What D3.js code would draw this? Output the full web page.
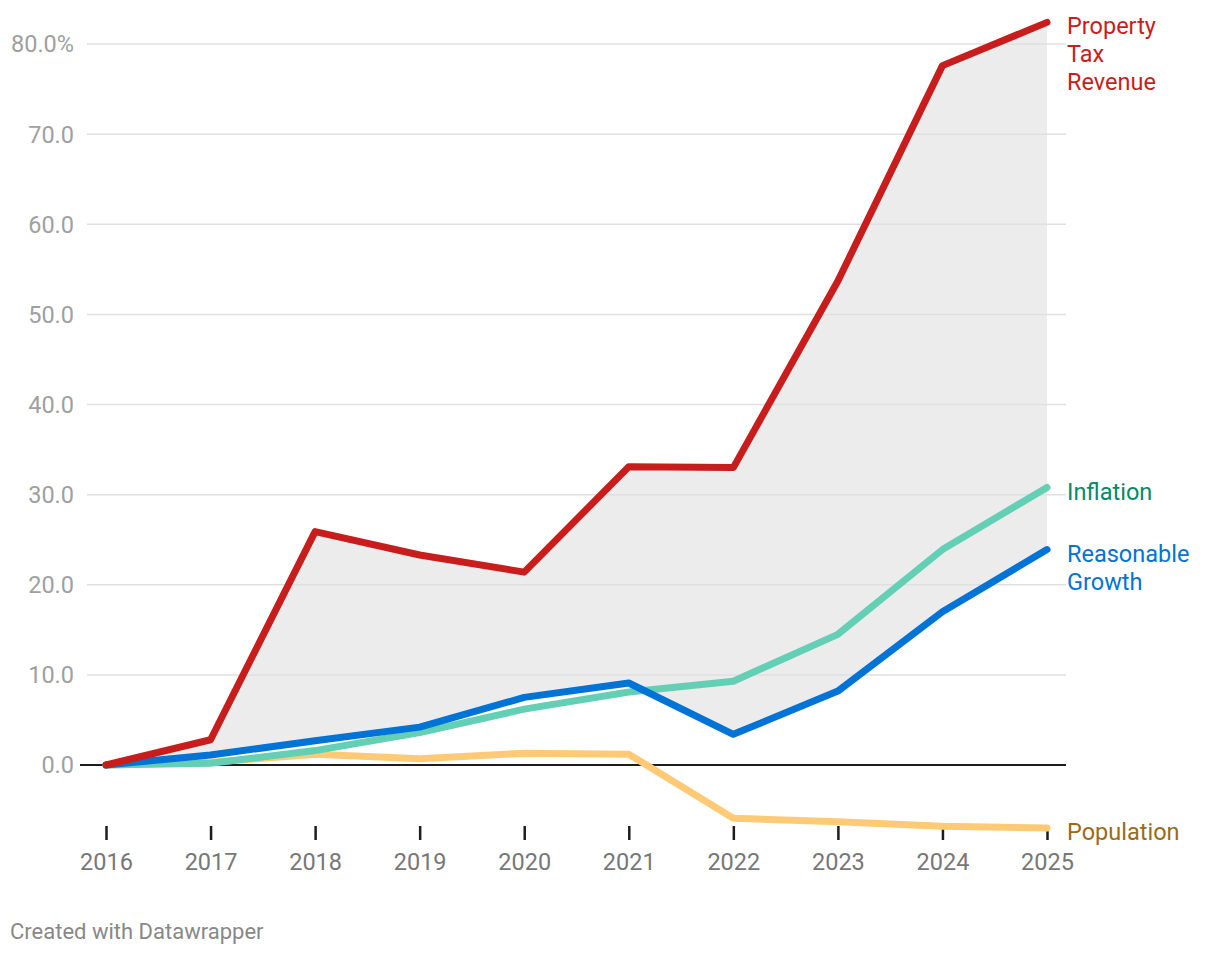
<!DOCTYPE html>
<html><head><meta charset="utf-8">
<script src="https://cdn.jsdelivr.net/npm/d3@7"></script>
<style>body{margin:0;background:#fff;font-family:Roboto,sans-serif}</style>
</head><body><svg id="c" width="1220" height="954"></svg>
<script>
const years = [2016,2017,2018,2019,2020,2021,2022,2023,2024,2025];
const propertyTax = [0,2.8,25.9,23.3,21.4,33.1,33.0,53.7,77.6,82.4];
const reasonableGrowth = [0,1.1,2.7,4.2,7.5,9.1,3.4,8.2,17.0,23.9];
const inflation = [0,0.2,1.6,3.6,6.2,8.1,9.3,14.5,23.9,30.8];
const population = [0,0.3,1.2,0.7,1.3,1.2,-5.9,-6.3,-6.8,-7.0];
const yTicks = [0,10,20,30,40,50,60,70,80];

const svg = d3.select("#c");
const x = d3.scaleLinear().domain([2016,2025]).range([106,1047]);
const y = d3.scaleLinear().domain([0,80]).range([765,44]);

const area = d3.area().x((d,i)=>x(years[i])).y0((d,i)=>y(reasonableGrowth[i])).y1(d=>y(d));
svg.append("path").attr("d",area(propertyTax)).attr("fill","#ececec");

const grid = svg.append("g");
yTicks.filter(t=>t!==0).forEach(t=>{
  grid.append("line").attr("x1",87).attr("x2",1066).attr("y1",y(t)).attr("y2",y(t))
    .attr("stroke","#e0e0e0").attr("stroke-width",1.5);
});
yTicks.forEach(t=>{
  svg.append("text").attr("x",74).attr("y",y(t)).attr("dy","0.36em").attr("text-anchor","end")
    .attr("fill","#a0a0a0").attr("font-size",23.5).text(t===80? t.toFixed(1)+"%" : t.toFixed(1));
});
svg.append("line").attr("x1",80).attr("x2",1066).attr("y1",y(0)).attr("y2",y(0))
  .attr("stroke","#1d1d1d").attr("stroke-width",2);

const xa = svg.append("g").attr("transform","translate(0,826)")
  .call(d3.axisBottom(x).tickValues(years).tickFormat(d3.format("d")).tickSize(14).tickPadding(13));
xa.select(".domain").remove();
xa.selectAll(".tick line").attr("stroke","#1d1d1d").attr("stroke-width",2.5);
xa.selectAll(".tick text").attr("fill","#777").attr("font-size",23.5).attr("font-family","Roboto,sans-serif");

const line = d3.line().x((d,i)=>x(years[i])).y(d=>y(d));
const series = [
  {v:population, c:"#ffca76"},
  {v:inflation, c:"#63d0b5"},
  {v:reasonableGrowth, c:"#0073d6"},
  {v:propertyTax, c:"#c71e1d"}
];
series.forEach(s=>{
  svg.append("path").attr("d",line(s.v)).attr("fill","none").attr("stroke",s.c)
    .attr("stroke-width",7).attr("stroke-linejoin","round").attr("stroke-linecap","round");
});

const labels = [
  {t:["Property","Tax","Revenue"], y:26, c:"#c71e1d"},
  {t:["Inflation"], y:492, c:"#09876a"},
  {t:["Reasonable","Growth"], y:554, c:"#0073d6"},
  {t:["Population"], y:832, c:"#9a6a1b"}
];
labels.forEach(l=>{
  l.t.forEach((s,i)=>{
    svg.append("text").attr("x",1067).attr("y",l.y+i*28).attr("dy","0.36em")
      .attr("fill",l.c).attr("font-size",23.5).text(s);
  });
});

svg.append("text").attr("x",10).attr("y",931).attr("dy","0.36em").attr("fill","#888")
  .attr("font-size",22).text("Created with Datawrapper");
</script></body></html>
